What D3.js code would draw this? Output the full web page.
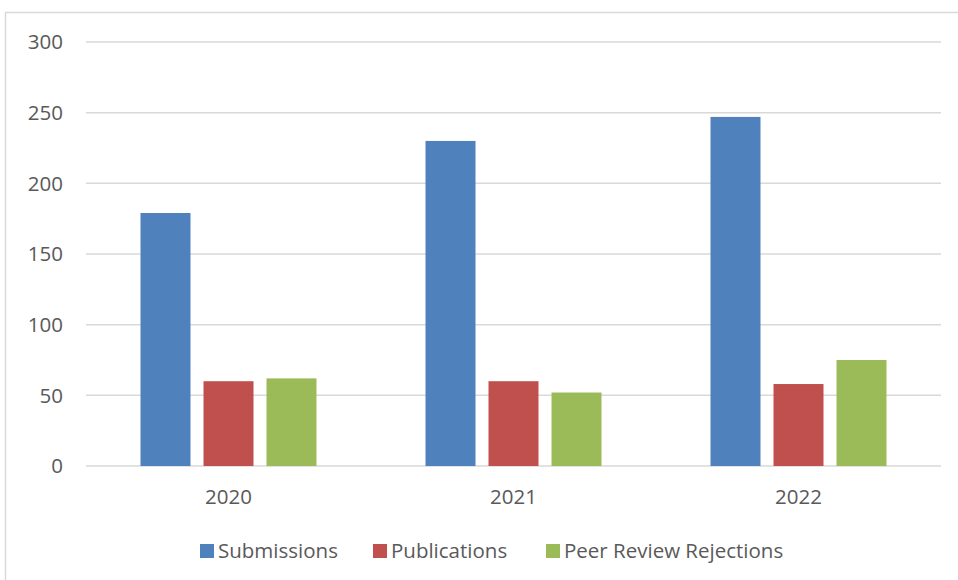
<!DOCTYPE html>
<html>
<head>
<meta charset="utf-8">
<script src="https://cdn.jsdelivr.net/npm/d3@7"></script>
<style>
  body { margin: 0; background: #fff; }
  svg text { font-family: "Open Sans", "Liberation Sans", sans-serif; fill: #595959; }
</style>
</head>
<body>
<svg id="chart" width="958" height="580"></svg>
<script>
const categories = ["2020", "2021", "2022"];
const seriesNames = ["Submissions", "Publications", "Peer Review Rejections"];
const submissions = [179, 230, 247];
const publications = [60, 60, 58];
const rejections = [62, 52, 75];
const yTicks = [0, 50, 100, 150, 200, 250, 300];
const colors = ["#4F81BD", "#C0504D", "#9BBB59"];

const values = [submissions, publications, rejections];
const data = categories.map((c, i) => ({ cat: c, vals: seriesNames.map((s, j) => ({ s, v: values[j][i], j })) }));

const svg = d3.select("#chart");
const plot = { left: 86, right: 941, top: 42, bottom: 466 };
const fs = 20.5;

svg.append("rect").attr("x", 5.5).attr("y", 12.5).attr("width", 970).attr("height", 600)
  .attr("fill", "#fff").attr("stroke", "#d9d9d9").attr("stroke-width", 1.5);

const y = d3.scaleLinear().domain([0, 300]).range([plot.bottom, plot.top]);
const x0 = d3.scaleBand().domain(categories).range([plot.left, plot.right]);
const groupW = 176;
const x1 = d3.scaleBand().domain(seriesNames).range([0, groupW]).paddingInner(13 / 63);

// gridlines
svg.append("g").selectAll("line").data(yTicks).join("line")
  .attr("x1", plot.left).attr("x2", plot.right)
  .attr("y1", d => y(d)).attr("y2", d => y(d))
  .attr("stroke", "#d9d9d9").attr("stroke-width", 1.5);

// y labels
svg.append("g").selectAll("text").data(yTicks).join("text")
  .attr("x", 63).attr("y", d => y(d)).attr("dy", "0.35em")
  .attr("text-anchor", "end").attr("font-size", fs).text(d => d);

// bars
const groups = svg.append("g").selectAll("g").data(data).join("g")
  .attr("transform", d => `translate(${x0(d.cat) + (x0.bandwidth() - groupW) / 2},0)`);
groups.selectAll("rect").data(d => d.vals).join("rect")
  .attr("x", d => x1(d.s)).attr("width", x1.bandwidth())
  .attr("y", d => y(d.v)).attr("height", d => y(0) - y(d.v))
  .attr("fill", d => colors[d.j]);

// x labels
svg.append("g").selectAll("text").data(categories).join("text")
  .attr("x", d => x0(d) + x0.bandwidth() / 2).attr("y", 497).attr("dy", "0.35em")
  .attr("text-anchor", "middle").attr("font-size", fs).text(d => d);

// legend
const legendX = [200, 373, 546];
const lg = svg.append("g").selectAll("g").data(seriesNames).join("g")
  .attr("transform", (d, i) => `translate(${legendX[i]},551)`);
lg.append("rect").attr("x", 0).attr("y", -7).attr("width", 14).attr("height", 14).attr("fill", (d, i) => colors[i]);
lg.append("text").attr("x", 18).attr("y", 0).attr("dy", "0.35em").attr("font-size", fs).text(d => d);
</script>
</body>
</html>
